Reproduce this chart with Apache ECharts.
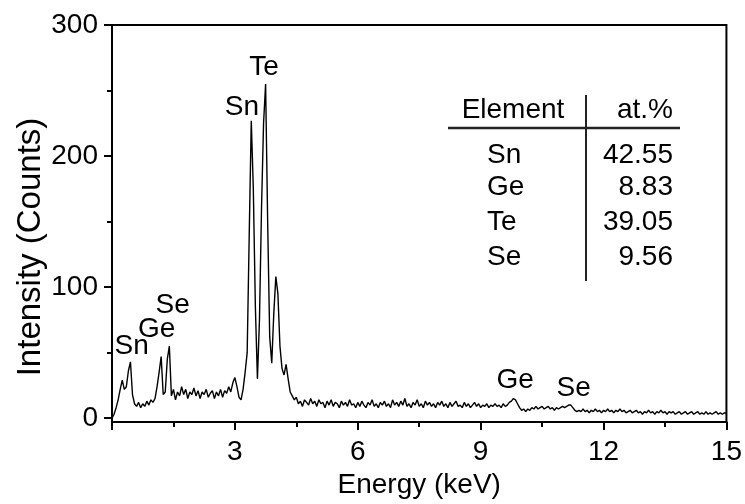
<!DOCTYPE html>
<html><head><meta charset="utf-8">
<script src="https://cdn.jsdelivr.net/npm/echarts@6/dist/echarts.min.js"></script>
<style>html,body{margin:0;padding:0;background:#fff}#c{width:745px;height:504px}</style>
</head><body><div id="c"></div>
<script>
// channel spacing of the spectrum (keV)
const ENERGY_STEP = 0.05;
// Intensity (counts), one value per 0.05 keV, 0.00 .. 15.00 keV
const counts = [
  0,3,8,14,22,29,22,24,36,43,18,11,9,12,8,11,9,13,10,14,
  12,15,24,35,47,18,20,45,55,17,22,14,20,17,24,18,22,15,20,18,
  23,17,21,15,20,18,22,16,19,21,15,20,17,22,16,21,19,24,20,27,
  31,24,16,14,22,35,50,140,227,175,85,30,75,160,225,255,150,62,42,80,
  108,95,55,38,33,41,30,20,17,14,16,11,13,9,14,12,10,15,11,13,
  9,14,11,12,8,13,10,14,9,12,11,8,13,10,12,9,14,10,11,8,
  12,9,13,10,8,12,10,14,9,11,8,12,10,13,9,11,8,14,10,12,
  9,13,10,15,9,11,8,12,10,14,9,11,8,13,10,12,9,11,8,12,
  10,13,9,11,8,12,9,11,13,9,10,8,12,9,11,8,10,12,9,11,
  8,10,9,11,8,10,9,11,9,10,8,11,9,10,12,13,15,14,11,8,
  6,7,5,7,6,8,7,9,7,8,9,7,8,9,7,8,6,8,7,8,
  9,8,9,10,10,8,6,5,6,5,7,5,6,4,6,5,7,5,6,4,
  6,5,7,5,6,4,6,5,7,5,6,4,5,6,4,5,6,4,5,3,
  5,4,6,4,5,3,5,4,6,4,5,3,5,4,5,3,4,5,3,4,
  5,3,4,5,3,4,5,3,4,3,5,3,4,3,4,5,3,4,3,4,
  4
];
const yTickValues = [0, 100, 200, 300];
const yMinorTickValues = [50, 150, 250];
const xTickLabels = [3, 6, 9, 12, 15];
// peak annotations: element name and the energy/intensity where the label sits
const peakNames = ['Sn', 'Te', 'Sn', 'Ge', 'Se', 'Ge', 'Se'];
const peakEnergies = [3.17, 3.71, 0.48, 1.09, 1.48, 9.84, 11.27];
const peakHeights = [237, 268, 55, 68, 86, 29, 23];
// composition table
const tableHeader = ['Element', 'at.%'];
const tableElements = ['Sn', 'Ge', 'Te', 'Se'];
const tableValues = ['42.55', '8.83', '39.05', '9.56'];

const FONT = 'Arial, "Liberation Sans", Helvetica, sans-serif';
const FS = 28;

const spectrum = counts.map((c, i) => [+(i * ENERGY_STEP).toFixed(2), c]);

const rowY = [155, 187, 222, 257];
const graphics = [
  { type: 'text', x: 31, y: 247, rotation: Math.PI / 2,
    style: { text: 'Intensity (Counts)', font: '33px ' + FONT, fill: '#000', align: 'center', verticalAlign: 'middle' } },
  { type: 'text', x: 513, y: 110, style: { text: tableHeader[0], font: FS + 'px ' + FONT, fill: '#000', align: 'center', verticalAlign: 'middle' } },
  { type: 'text', x: 673, y: 110, style: { text: tableHeader[1], font: FS + 'px ' + FONT, fill: '#000', align: 'right', verticalAlign: 'middle' } },
  { type: 'line', shape: { x1: 448, y1: 128, x2: 680, y2: 128 }, style: { stroke: '#222', lineWidth: 2.5 } },
  { type: 'line', shape: { x1: 586, y1: 95, x2: 586, y2: 281 }, style: { stroke: '#222', lineWidth: 2 } }
];
tableElements.forEach((el, i) => {
  graphics.push({ type: 'text', x: 487, y: rowY[i], style: { text: el, font: FS + 'px ' + FONT, fill: '#000', align: 'left', verticalAlign: 'middle' } });
  graphics.push({ type: 'text', x: 673, y: rowY[i], style: { text: tableValues[i], font: FS + 'px ' + FONT, fill: '#000', align: 'right', verticalAlign: 'middle' } });
});

const chart = echarts.init(document.getElementById('c'), null, { renderer: 'canvas' });
const axisLineStyle = { color: '#000', width: 2 };
chart.setOption({
  animation: false,
  backgroundColor: '#fff',
  textStyle: { fontFamily: FONT },
  grid: { left: 112, right: 14, top: 25, bottom: 72, show: true, borderColor: '#000', borderWidth: 2, containLabel: false },
  xAxis: {
    type: 'value', min: 0, max: 15, interval: 3,
    axisLine: { show: true, onZero: false, lineStyle: axisLineStyle },
    axisTick: { show: true, inside: false, length: 8, lineStyle: axisLineStyle },
    minorTick: { show: true, splitNumber: 2, length: 5, lineStyle: axisLineStyle },
    axisLabel: { color: '#000', fontSize: FS, fontFamily: FONT, margin: 16,
      formatter: v => xTickLabels.indexOf(v) >= 0 ? String(v) : '' },
    splitLine: { show: false }, minorSplitLine: { show: false },
    name: 'Energy (keV)', nameLocation: 'middle', nameGap: 44,
    nameTextStyle: { color: '#000', fontSize: FS, fontFamily: FONT }
  },
  yAxis: [
    {
      type: 'value', min: -3, max: 300,
      axisLine: { show: true, onZero: false, lineStyle: axisLineStyle },
      axisTick: { show: true, inside: false, length: 8, lineStyle: axisLineStyle, customValues: yTickValues },
      axisLabel: { color: '#000', fontSize: FS, fontFamily: FONT, margin: 14, customValues: yTickValues },
      splitLine: { show: false }
    },
    {
      type: 'value', min: -3, max: 300, position: 'left', offset: 0,
      axisLine: { show: false },
      axisTick: { show: true, inside: false, length: 5, lineStyle: axisLineStyle, customValues: yMinorTickValues },
      axisLabel: { show: false },
      splitLine: { show: false }
    }
  ],
  series: [{
    type: 'line',
    data: spectrum,
    showSymbol: false,
    symbol: 'none',
    sampling: null,
    lineStyle: { color: '#000', width: 1.4 },
    markPoint: {
      symbol: 'rect', symbolSize: [1, 1],
      itemStyle: { color: 'rgba(0,0,0,0)' },
      label: { show: true, position: 'inside', formatter: '{b}', color: '#000', fontSize: FS, fontFamily: FONT },
      data: peakNames.map((n, i) => ({ name: n, coord: [peakEnergies[i], peakHeights[i]] }))
    }
  }],
  graphic: graphics
});
</script>
</body></html>
